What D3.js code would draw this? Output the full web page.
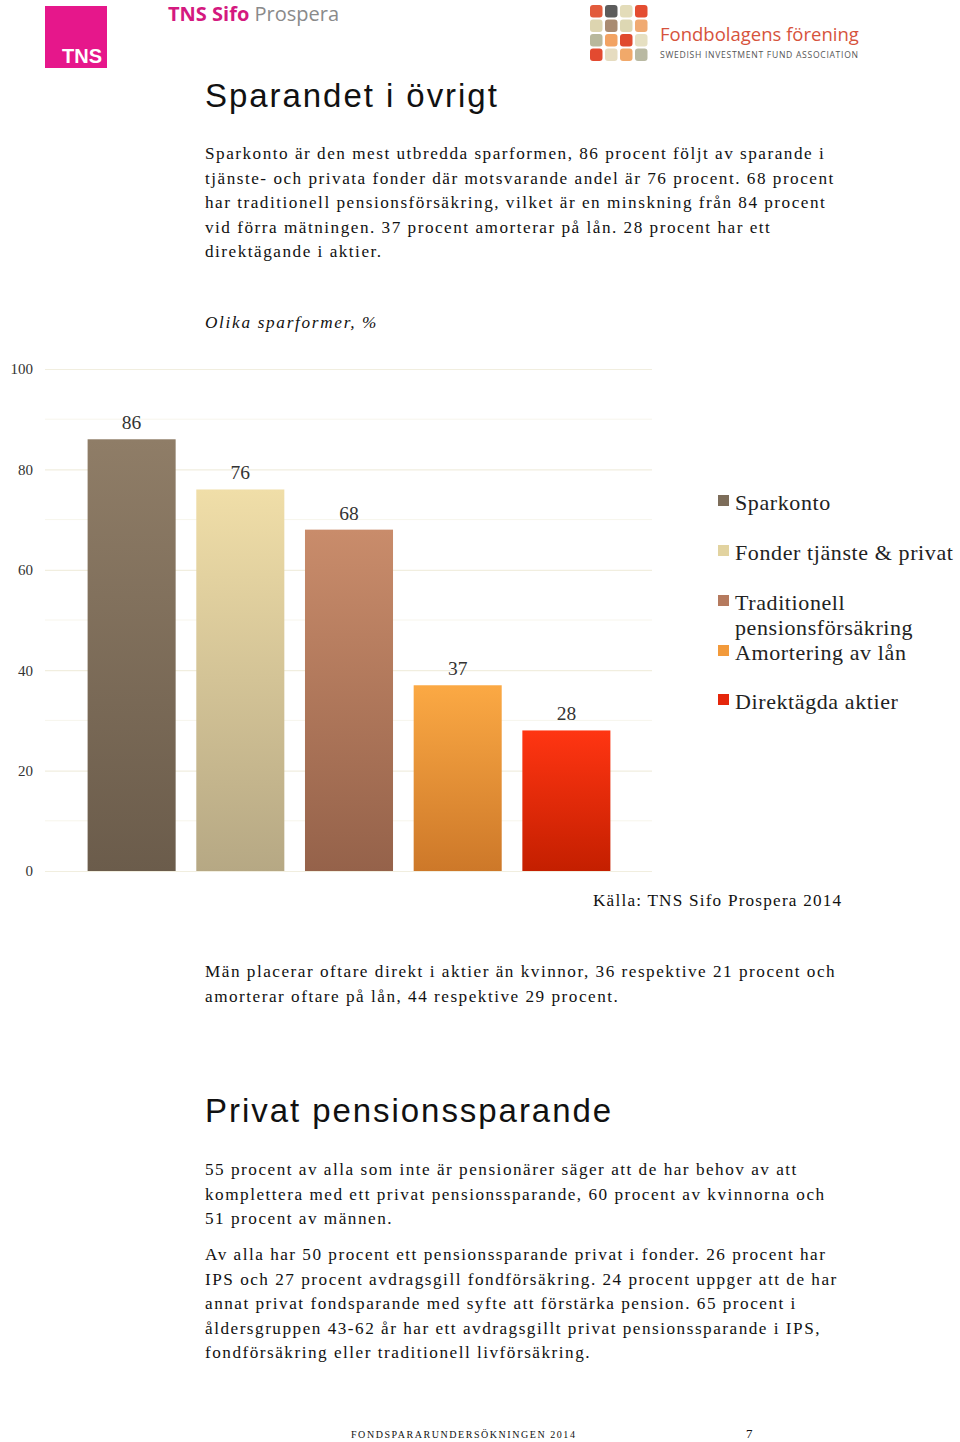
<!DOCTYPE html>
<html><head><meta charset="utf-8">
<script src="https://cdn.jsdelivr.net/npm/d3@7"></script>
<style>
html,body{margin:0;padding:0;background:#fff;}
svg{display:block;}
</style></head>
<body>
<svg id="page" width="960" height="1442"></svg>
<script>
// ---- data ----
const categories = ["Sparkonto", "Fonder tjänste & privat", "Traditionell pensionsförsäkring", "Amortering av lån", "Direktägda aktier"];
const values = [86, 76, 68, 37, 28];
const yTicks = [0, 20, 40, 60, 80, 100];
const legendLines = [["Sparkonto"], ["Fonder tjänste & privat"], ["Traditionell", "pensionsförsäkring"], ["Amortering av lån"], ["Direktägda aktier"]];

// ---- styles ----
const gradTop = ["#8f7d67", "#f0dea8", "#c98c6b", "#fba944", "#ff3512"];
const gradBot = ["#6b5c4b", "#b6a884", "#95624a", "#cd7829", "#c41f00"];
const legendCol = ["#7d6d5a", "#e2d3a0", "#b57a5e", "#f29a3b", "#e5260b"];

const svg = d3.select("#page");
const serif = "'Liberation Serif','DejaVu Serif',serif";
const sans = "'Liberation Sans',Arial,sans-serif";

// ---- header logos ----
svg.append("rect").attr("x", 45).attr("y", 6).attr("width", 62).attr("height", 62).attr("fill", "#e6178b");
svg.append("text").attr("x", 102).attr("y", 63).attr("text-anchor", "end").attr("fill", "#fff")
  .attr("font-family", sans).attr("font-weight", "bold").attr("font-size", 20).text("TNS");
const tp = svg.append("text").attr("x", 168).attr("y", 21).attr("font-family", "'Open Sans','Noto Sans',sans-serif").attr("font-size", 20);
tp.append("tspan").attr("fill", "#d4197f").attr("font-weight", "bold").text("TNS Sifo ");
tp.append("tspan").attr("fill", "#8a8a8a").text("Prospera");

const fbColors = [
  ["#e25b3c", "#5c5c5c", "#e3dcb9", "#e44d31"],
  ["#ddd5b0", "#a98b72", "#ddd7b3", "#f0aa72"],
  ["#b8b89c", "#f2a363", "#e04a2e", "#e6e0c2"],
  ["#e34a30", "#e6dcc0", "#f1a96a", "#b9b9a2"]
];
fbColors.forEach((row, r) => row.forEach((c, k) => {
  svg.append("rect").attr("x", 590 + k * 15).attr("y", 5 + r * 14.5).attr("width", 12.5).attr("height", 12.5)
    .attr("rx", 3).attr("fill", c);
}));
svg.append("text").attr("x", 660).attr("y", 41).attr("font-family", "'Open Sans','Noto Sans',sans-serif")
  .attr("font-size", 18.5).attr("fill", "#d6533c").text("Fondbolagens förening");
svg.append("text").attr("x", 660).attr("y", 58).attr("font-family", "'Open Sans','Noto Sans',sans-serif")
  .attr("font-size", 8.6).attr("fill", "#555").attr("letter-spacing", 0.7).text("SWEDISH INVESTMENT FUND ASSOCIATION");

// ---- text helpers ----
function para(lines, x, y0, lh, opts = {}) {
  lines.forEach((t, i) => {
    svg.append("text").attr("x", x).attr("y", y0 + i * lh)
      .attr("font-family", serif).attr("font-size", opts.size || 17.2)
      .attr("letter-spacing", opts.ls == null ? 1.5 : opts.ls)
      .attr("font-style", opts.italic ? "italic" : "normal")
      .attr("fill", "#111").text(t);
  });
}
function heading(t, y) {
  svg.append("text").attr("x", 205).attr("y", y).attr("font-family", sans).attr("font-size", 33)
    .attr("letter-spacing", 1.95).attr("fill", "#111").text(t);
}

heading("Sparandet i övrigt", 107);
para([
  "Sparkonto är den mest utbredda sparformen, 86 procent följt av sparande i",
  "tjänste- och privata fonder där motsvarande andel är 76 procent. 68 procent",
  "har traditionell pensionsförsäkring, vilket är en minskning från 84 procent",
  "vid förra mätningen. 37 procent amorterar på lån. 28 procent har ett",
  "direktägande i aktier."
], 205, 159, 24.6);
para(["Olika sparformer, %"], 205, 328, 0, { italic: true, ls: 1.7 });

// ---- chart ----
const x0 = 45, x1 = 652, yTop = 369, yBot = 871;
const y = d3.scaleLinear().domain([0, 100]).range([yBot, yTop]);
const x = d3.scaleBand().domain(categories).range([x0 + 10, x1 - 9]).paddingInner(0.19).paddingOuter(0.3);

const g = svg.append("g");
// minor grid
g.selectAll("line.minor").data(d3.range(10, 100, 20)).join("line")
  .attr("x1", x0).attr("x2", x1).attr("y1", d => y(d)).attr("y2", d => y(d))
  .attr("stroke", "#f7f5ec").attr("stroke-width", 1);
// major grid via axis
const axis = d3.axisLeft(y).tickValues(yTicks).tickSize(-(x1 - x0)).tickPadding(12).tickFormat(d3.format("d"));
const ax = g.append("g").attr("transform", `translate(${x0},0)`).call(axis);
ax.select(".domain").remove();
ax.selectAll(".tick line").attr("stroke", "#f1eedf").attr("stroke-width", 1.2);
ax.selectAll(".tick text").attr("font-family", serif).attr("font-size", 15).attr("fill", "#333");

const defs = svg.append("defs");
categories.forEach((c, i) => {
  const lg = defs.append("linearGradient").attr("id", "gr" + i).attr("x1", 0).attr("y1", 0).attr("x2", 0).attr("y2", 1);
  lg.append("stop").attr("offset", "0%").attr("stop-color", gradTop[i]);
  lg.append("stop").attr("offset", "100%").attr("stop-color", gradBot[i]);
});

g.selectAll("rect.bar").data(values).join("rect")
  .attr("x", (d, i) => x(categories[i])).attr("width", x.bandwidth())
  .attr("y", d => y(d)).attr("height", d => y(0) - y(d))
  .attr("fill", (d, i) => `url(#gr${i})`);

g.selectAll("text.val").data(values).join("text")
  .attr("x", (d, i) => x(categories[i]) + x.bandwidth() / 2).attr("y", d => y(d) - 10)
  .attr("text-anchor", "middle").attr("font-family", serif).attr("font-size", 19.5).attr("fill", "#333")
  .text(d => d);

// legend
const legY = [503, 553, 603, 653, 702];
legendLines.forEach((lines, i) => {
  svg.append("rect").attr("x", 718).attr("y", legY[i] - 8).attr("width", 11).attr("height", 11).attr("fill", legendCol[i]);
  lines.forEach((t, j) => {
    svg.append("text").attr("x", 735).attr("y", legY[i] + 7 + j * 25).attr("font-family", serif)
      .attr("font-size", 22).attr("letter-spacing", 0.6).attr("fill", "#222").text(t);
  });
});

para(["Källa: TNS Sifo Prospera 2014"], 593, 906, 0, { ls: 1.2 });
para([
  "Män placerar oftare direkt i aktier än kvinnor, 36 respektive 21 procent och",
  "amorterar oftare på lån, 44 respektive 29 procent."
], 205, 977, 24.6);

heading("Privat pensionssparande", 1122);
para([
  "55 procent av alla som inte är pensionärer säger att de har behov av att",
  "komplettera med ett privat pensionssparande, 60 procent av kvinnorna och",
  "51 procent av männen."
], 205, 1175, 24.6);
para([
  "Av alla har 50 procent ett pensionssparande privat i fonder. 26 procent har",
  "IPS och 27 procent avdragsgill fondförsäkring. 24 procent uppger att de har",
  "annat privat fondsparande med syfte att förstärka pension. 65 procent i",
  "åldersgruppen 43-62 år har ett avdragsgillt privat pensionssparande i IPS,",
  "fondförsäkring eller traditionell livförsäkring."
], 205, 1260, 24.6);

svg.append("text").attr("x", 351).attr("y", 1438).attr("font-family", serif).attr("font-size", 10)
  .attr("letter-spacing", 1.55).attr("fill", "#111").text("FONDSPARARUNDERSÖKNINGEN 2014");
svg.append("text").attr("x", 746).attr("y", 1438).attr("font-family", serif).attr("font-size", 13)
  .attr("fill", "#111").text("7");
</script>
</body></html>
